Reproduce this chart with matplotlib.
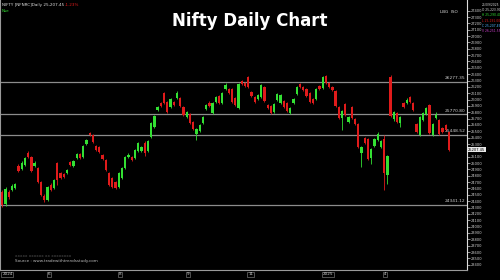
import matplotlib.pyplot as plt
import numpy as np

# daily candles
opens = [24546, 24357, 24546, 24577, 24609, 24955, 24908, 24971, 25160, 25097,
         24955, 24924, 24703, 24483, 24420, 24656, 24609, 25002, 24845, 24829,
         24845, 25018, 24955, 25081, 25144, 25097, 25301, 25475, 25443, 25270,
         25254, 25128, 25050, 24845, 24766, 24703, 24625, 24766, 24924, 25097,
         25097, 25081, 25191, 25191, 25317, 25191, 25412, 25569, 25837, 25947,
         26104, 25962, 25884, 25962, 26025, 26025, 25884, 25726, 25774, 25648,
         25459, 25506, 25632, 25852, 25947, 25789, 25962, 26057, 25947, 26167,
         26167, 26167, 26025, 25868, 26293, 26262, 26356, 26120, 26041, 26010,
         26041, 26199, 25915, 25900, 25805, 25994, 25947, 25978, 25947, 25789,
         25947, 26088, 26246, 26199, 26167, 26104, 26010, 26010, 26214, 26183,
         26372, 26262, 26199, 26136, 25884, 25711, 25931, 25648, 25884, 25695,
         25616, 25160, 25396, 25380, 25081, 25270, 25364, 25254, 25380, 24814,
         26356, 25695, 25789, 25632, 25947, 25947, 26041, 25947, 25616, 25443,
         25679, 25774, 25915, 25443, 25711, 25679, 25553, 25601, 25490]
closes = [24341, 24593, 24467, 24640, 24672, 24876, 25002, 25081, 25097, 24876,
          25002, 24703, 24499, 24420, 24625, 24577, 24735, 24735, 24766, 24782,
          24892, 24971, 25034, 25144, 25081, 25270, 25364, 25443, 25333, 25207,
          25176, 25065, 24892, 24656, 24625, 24609, 24845, 24924, 25097, 25128,
          25050, 25207, 25317, 25254, 25160, 25349, 25632, 25742, 25884, 25900,
          25947, 25805, 26010, 25915, 26104, 25900, 25758, 25805, 25632, 25538,
          25538, 25601, 25726, 25915, 25900, 25947, 26041, 25947, 26104, 26230,
          26104, 25962, 25915, 26246, 26246, 26214, 26199, 26057, 25962, 26073,
          26230, 25978, 25868, 25789, 25931, 26088, 26073, 25884, 25821, 25868,
          26010, 26199, 26199, 26151, 26057, 25962, 25947, 26167, 26167, 26356,
          26262, 26199, 26151, 25900, 25711, 25821, 25758, 25726, 25711, 25616,
          25254, 25254, 25317, 25065, 25223, 25380, 25459, 25349, 24845, 25113,
          25742, 25805, 25648, 25726, 25884, 25994, 25962, 25837, 25490, 25726,
          25789, 25868, 25475, 25616, 25758, 25459, 25490, 25522, 25207]
highs = [24578, 24625, 24577, 24672, 24688, 24987, 25034, 25097, 25191, 25113,
         25034, 24939, 24719, 24514, 24640, 24688, 24751, 25018, 24861, 24845,
         24908, 25034, 25050, 25160, 25160, 25286, 25380, 25490, 25459, 25286,
         25270, 25144, 25065, 24861, 24782, 24719, 24861, 24939, 25113, 25160,
         25113, 25223, 25333, 25270, 25349, 25364, 25648, 25758, 25900, 25962,
         26120, 25978, 26025, 25978, 26136, 26041, 25900, 25821, 25789, 25663,
         25553, 25616, 25742, 25931, 25978, 25962, 26057, 26073, 26120, 26262,
         26183, 26183, 26041, 26262, 26309, 26277, 26372, 26136, 26057, 26088,
         26246, 26214, 25931, 25915, 25947, 26104, 26088, 25994, 25962, 25884,
         26025, 26214, 26262, 26214, 26183, 26120, 26025, 26183, 26230, 26372,
         26388, 26277, 26214, 26151, 25900, 25837, 25947, 25742, 25900, 25711,
         25632, 25270, 25412, 25396, 25239, 25396, 25490, 25364, 25443, 25128,
         26388, 25821, 25805, 25742, 25962, 26025, 26057, 25962, 25632, 25742,
         25805, 25884, 25931, 25632, 25805, 25695, 25569, 25616, 25506]
lows = [24310, 24325, 24436, 24562, 24593, 24861, 24892, 24955, 25081, 24861,
        24939, 24688, 24483, 24389, 24404, 24562, 24593, 24656, 24751, 24766,
        24829, 24955, 24939, 25065, 25065, 25081, 25286, 25427, 25317, 25191,
        25160, 25050, 24876, 24640, 24609, 24593, 24609, 24751, 24908, 25081,
        25034, 25065, 25176, 25176, 25113, 25176, 25396, 25553, 25821, 25884,
        25931, 25789, 25868, 25900, 26010, 25884, 25742, 25711, 25616, 25522,
        25364, 25490, 25616, 25837, 25884, 25774, 25947, 25931, 25931, 26151,
        26088, 25947, 25900, 25852, 26230, 26199, 26183, 26041, 25947, 25994,
        26025, 25962, 25852, 25774, 25789, 25978, 25931, 25868, 25805, 25774,
        25931, 26073, 26183, 26136, 26041, 25947, 25931, 25994, 26151, 26167,
        26246, 26183, 26136, 25884, 25695, 25522, 25742, 25632, 25695, 25601,
        25239, 24939, 25301, 25050, 24987, 25254, 25349, 25239, 24577, 24672,
        25726, 25663, 25632, 25569, 25868, 25931, 25947, 25821, 25475, 25427,
        25663, 25758, 25459, 25427, 25695, 25443, 25475, 25506, 25191]

levels = [26277.35, 25770.80, 25448.52, 24341.12]
date_pos = [0, 14, 36, 57, 76, 99, 118]
date_lbl = ['2024', '6', '8', '9', '11', '2025', '4']

GREEN = '#33e033'
RED = '#e01b1b'

fig = plt.figure(figsize=(5, 2.8), dpi=100, facecolor='black')
ax = fig.add_axes([0.0, 0.036, 0.934, 0.964], facecolor='black')

x = np.arange(len(opens))
o = np.array(opens)
c = np.array(closes)
cols = [GREEN if cc >= oo else RED for oo, cc in zip(o, c)]

ax.vlines(x, lows, highs, colors=cols, linewidth=0.6, zorder=3)
ax.bar(x, np.abs(c - o) + 8, 0.7, bottom=np.minimum(o, c) - 4, color=cols, zorder=4)

for lv in levels:
    ax.axhline(lv, color='#8c8c8c', linewidth=0.9, zorder=1)
    ax.text(143, lv + 25, '%.2f' % lv, color='#cfcfcf', fontsize=3.2,
            ha='right', va='bottom')

ax.set_xlim(-0.7, 143.6)
ax.set_ylim(23318, 27568)

ax.yaxis.tick_right()
ax.set_yticks(np.arange(23400, 27500, 100))
ax.set_yticklabels([str(v) for v in range(23400, 27500, 100)])
ax.tick_params(axis='y', colors='#d0d0d0', labelsize=2.6, length=2, width=0.5, pad=0.8)
ax.set_xticks([])
ax.spines['top'].set_visible(False)
ax.spines['left'].set_color('#9a9a9a')
ax.spines['right'].set_color('#dddddd')
ax.spines['bottom'].set_color('#9a9a9a')
ax.spines['right'].set_linewidth(0.8)

# current price tag
ax.text(143.9, closes[-1], '%d.45' % closes[-1], color='black', fontsize=2.6,
        va='center', ha='left', clip_on=False, zorder=6,
        bbox=dict(boxstyle='square,pad=0.15', fc='#e8e8e8', ec='none'))

# date labels
for p, lab in zip(date_pos, date_lbl):
    ax.text(p, 23318 - 40, lab, color='#cfcfcf', fontsize=3, ha='left', va='top',
            clip_on=False, bbox=dict(boxstyle='square,pad=0.2', fc='black',
                                     ec='#8c8c8c', lw=0.4))

fig.text(0.5, 0.925, 'Nifty Daily Chart', color='white', fontsize=12,
         fontweight='bold', ha='center', va='center')

# header texts
fig.text(0.004, 0.988, 'NIFTY [NFNRC]Daily 25,207.45', color='#dddddd', fontsize=3,
         va='top')
fig.text(0.13, 0.988, '-1.23%', color=RED, fontsize=3, va='top')
fig.text(0.004, 0.968, 'Nse', color=GREEN, fontsize=3, va='top')
fig.text(0.88, 0.965, 'LBG  ISO', color='#dddddd', fontsize=3, va='top')
side = [('25/09/2025', '#dddddd'), ('O 25,223.90', '#dddddd'), ('H 25,290.40', GREEN),
        ('L 25,191.00', RED), ('C 25,207.45', '#4fb3ff'), ('V 26,251.55', '#d040d0')]
for i, (t, col) in enumerate(side):
    fig.text(0.963, 0.99 - i * 0.019, t, color=col, fontsize=2.2, va='top')

fig.text(0.03, 0.06, 'Source : www.tradewithtrendsstudy.com', color='#bbbbbb',
         fontsize=3, va='bottom')
fig.text(0.03, 0.08, 'xxxxx xxxxxx xx xxxxxxxx', color='#555555', fontsize=3,
         va='bottom')

fig.savefig('out.png', dpi=100, facecolor='black')
